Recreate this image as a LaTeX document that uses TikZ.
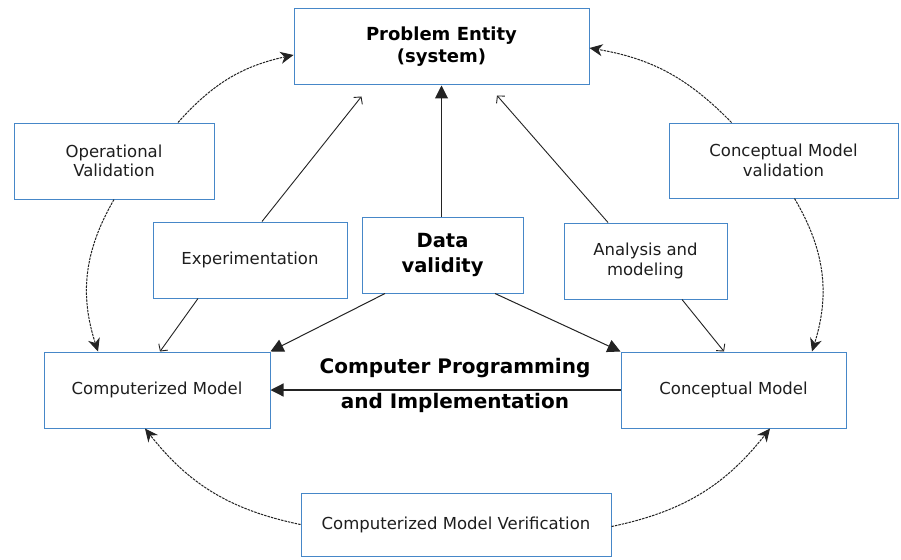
\documentclass[tikz,border=0pt]{standalone}
\usepackage{fontspec}
\setmainfont{DejaVu Sans}
\usetikzlibrary{arrows.meta,calc}
\definecolor{boxblue}{RGB}{70,135,200}
\definecolor{linegray}{RGB}{35,35,35}
\definecolor{txtgray}{RGB}{30,30,30}
\tikzset{
  box/.style={draw=boxblue,line width=1pt,fill=white,inner sep=0pt,align=center,text=txtgray,font=\fontsize{16.5}{19.5}\selectfont},
  bigbold/.style={font=\bfseries\fontsize{18}{22}\selectfont,text=black},
  solidopen/.style={draw=linegray,line width=0.9pt,-{Straight Barb[length=5pt,width=11pt]}},
  solidfill/.style={draw=linegray,line width=1pt,-{Triangle[length=13pt,width=13pt]}},
  dashline/.style={draw=linegray,line width=1pt,dash pattern=on 2.5pt off 1pt,-{Stealth[length=13pt,width=12pt,inset=4pt]}}
}
\begin{document}
\begin{tikzpicture}[x=1pt,y=-1pt]
\useasboundingbox[fill=white] (0,0) rectangle (901,559);
% boxes
\node[box,minimum width=295pt,minimum height=76pt,bigbold] (PE) at (441.5,47) {Problem Entity\\(system)};
\node[box,minimum width=200pt,minimum height=76pt] (OV) at (114,161) {Operational\\Validation};
\node[box,minimum width=229pt,minimum height=75pt] (CV) at (783.5,160.5) {Conceptual Model\\validation};
\node[box,minimum width=194pt,minimum height=76pt] (EX) at (250,260) {Experimentation};
\node[box,minimum width=161pt,minimum height=76pt,font=\bfseries\fontsize{19.5}{25}\selectfont,text=black] (DV) at (442.5,255) {Data\\validity};
\node[box,minimum width=163pt,minimum height=76pt] (AM) at (645.5,261) {Analysis and\\modeling};
\node[box,minimum width=226pt,minimum height=76pt] (CM) at (157,390) {Computerized Model};
\node[box,minimum width=225pt,minimum height=76pt] (CoM) at (733.5,390) {Conceptual Model};
\node[box,minimum width=310pt,minimum height=63pt] (VF) at (456,524.5) {Computerized Model Verification};
% labels
\node[font=\bfseries\fontsize{20}{24}\selectfont,inner sep=0pt] (L1) at (455,368) {Computer Programming};
\node[font=\bfseries\fontsize{20}{24}\selectfont,inner sep=0pt] (L2) at (455,403) {and Implementation};
% solid connectors
\draw[solidfill] (DV.north -| PE.south) -- (PE.south);
\draw[solidopen] ($(EX.north)+(12,0)$) -- ($(PE.south)+(-80,11)$);
\draw[solidopen] ($(AM.north)+(-37.5,0)$) -- ($(PE.south)+(55.5,10)$);
\draw[solidopen] ($(EX.south)+(-52,0)$) -- ($(CM.north)+(3,0)$);
\draw[solidopen] ($(AM.south)+(36.5,0)$) -- ($(CoM.north)+(-9.5,0)$);
\draw[solidfill] ($(DV.south)+(-57.5,0)$) -- (CM.north east);
\draw[solidfill] ($(DV.south)+(52.5,0)$) -- (CoM.north west);
\draw[solidfill,line width=1.2pt] (CoM.west) -- (CM.east);
% dashed curves
\draw[dashline] ($(OV.north)+(64,0)$) to[bend left=18] ($(PE.west)+(0,8)$);
\draw[dashline] ($(OV.south)+(0,0)$) to[bend right=24] ($(CM.north)+(-59,0)$);
\draw[dashline] ($(CV.north)+(-52,0)$) to[bend right=18] ($(PE.east)+(0,1)$);
\draw[dashline] ($(CV.south)+(11,0)$) to[bend left=24] ($(CoM.north)+(78.5,0)$);
\draw[dashline] ($(VF.west)+(0,0)$) to[bend left=20] ($(CM.south)+(-12,0)$);
\draw[dashline] ($(VF.east)+(0,2)$) to[bend right=20] ($(CoM.south)+(36.5,0)$);
\end{tikzpicture}
\end{document}
